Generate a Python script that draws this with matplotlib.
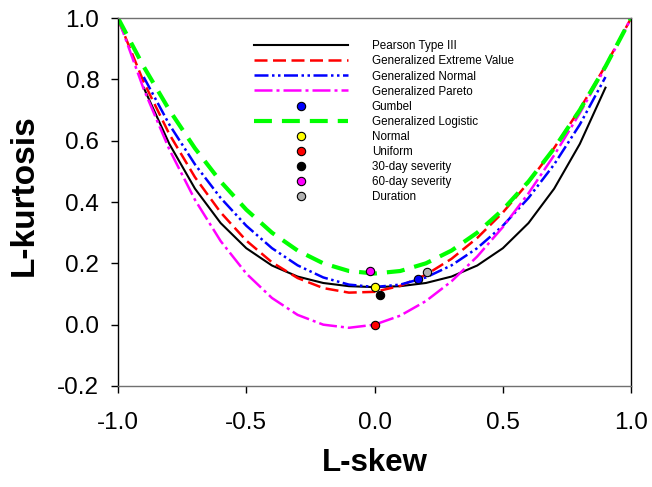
import matplotlib.pyplot as plt

# ----------------------------
# 1. Data
# ----------------------------
skew_full = [-1.0, -0.9, -0.8, -0.7, -0.6, -0.5, -0.4, -0.3, -0.2, -0.1, 0.0,
             0.1, 0.2, 0.3, 0.4, 0.5, 0.6, 0.7, 0.8, 0.9, 1.0]
skew_part = [-0.9, -0.8, -0.7, -0.6, -0.5, -0.4, -0.3, -0.2, -0.1, 0.0,
             0.1, 0.2, 0.3, 0.4, 0.5, 0.6, 0.7, 0.8, 0.9]

pe3_kurt = [0.7729, 0.5894, 0.4435, 0.3314, 0.2493, 0.1929, 0.1569, 0.1359, 0.1255, 0.1224,
            0.1255, 0.1359, 0.1569, 0.1929, 0.2493, 0.3314, 0.4435, 0.5894, 0.7729]
gev_kurt = [0.9966, 0.7916, 0.6214, 0.4808, 0.3661, 0.2742, 0.2034, 0.1521, 0.1193, 0.1045, 0.1070,
            0.1265, 0.1626, 0.2148, 0.2827, 0.3658, 0.4638, 0.5762, 0.7029, 0.8443, 1.0]
gno_kurt = [0.8077, 0.6526, 0.5226, 0.4133, 0.3226, 0.2495, 0.1935, 0.1540, 0.1306, 0.1228,
            0.1306, 0.1540, 0.1935, 0.2495, 0.3226, 0.4133, 0.5226, 0.6526, 0.8077]
gpa_kurt = [1.0, 0.7683, 0.5714, 0.4070, 0.2727, 0.1667, 0.0870, 0.0319, 0.0, -0.0102, 0.0,
            0.0294, 0.0769, 0.1415, 0.2222, 0.3182, 0.4286, 0.5526, 0.6897, 0.8390, 1.0]
glo_kurt = [1.0, 0.8417, 0.7, 0.575, 0.4667, 0.375, 0.3, 0.2417, 0.2, 0.175, 0.1667,
            0.175, 0.2, 0.2417, 0.3, 0.375, 0.4667, 0.575, 0.7, 0.8417, 1.0]

# single points: (L-skew, L-kurtosis)
gumbel = (0.1699, 0.1504)
normal = (0.0, 0.1226)
uniform = (0.0, 0.0)
sev30 = (0.021, 0.098)
sev60 = (-0.018, 0.174)
duration = (0.203, 0.171)

# ----------------------------
# 2. Plot
# ----------------------------
plt.rcParams['font.family'] = ['Liberation Sans', 'DejaVu Sans']

fig = plt.figure(figsize=(6.52, 4.87), dpi=100)
ax = fig.add_axes([0.181, 0.2074, 0.787, 0.7556])

ax.plot(skew_part, pe3_kurt, color='black', lw=1.5, label='Pearson Type III')
ax.plot(skew_full, gev_kurt, color='red', lw=1.8, dashes=(5.2, 2.2), label='Generalized Extreme Value')
ax.plot(skew_part, gno_kurt, color='blue', lw=1.8,
        dashes=(5.6, 1.4, 1.0, 1.4, 1.0, 1.4), label='Generalized Normal')
ax.plot(skew_full, gpa_kurt, color='magenta', lw=1.8,
        dashes=(7.2, 1.6, 1.2, 1.6), label='Generalized Pareto')

mk = dict(marker='o', ms=6, mec='black', mew=0.8, ls='none', zorder=5)
ax.plot(*gumbel, color='blue', label='Gumbel', **mk)
ax.plot(skew_full, glo_kurt, color='#00ff00', lw=3, dashes=(4.3, 2.4), label='Generalized Logistic')
ax.plot(*normal, color='yellow', label='Normal', **mk)
ax.plot(*uniform, color='red', label='Uniform', **mk)
ax.plot(*sev30, color='black', label='30-day severity', **mk)
ax.plot(*sev60, color='magenta', label='60-day severity', **mk)
ax.plot(*duration, color='#b0b0b0', label='Duration', **mk)

ax.set_xlim(-1.0, 1.0)
ax.set_ylim(-0.2, 1.0)
ax.set_xticks([-1.0, -0.5, 0.0, 0.5, 1.0])
ax.set_yticks([-0.2, 0.0, 0.2, 0.4, 0.6, 0.8, 1.0])
ax.xaxis.set_major_formatter(plt.FormatStrFormatter('%.1f'))
ax.yaxis.set_major_formatter(plt.FormatStrFormatter('%.1f'))
ax.tick_params(direction='out', length=5, width=1, labelsize=17.5)
ax.tick_params(axis='x', pad=14)
ax.tick_params(axis='y', pad=8.5)

ax.spines['top'].set_color('#707070')
ax.spines['bottom'].set_color('#707070')
for s in ax.spines.values():
    s.set_linewidth(1)

ax.set_xlabel('L-skew', fontsize=22.5, fontweight='bold', labelpad=10)
ax.set_ylabel('L-kurtosis', fontsize=24, fontweight='bold')
ax.yaxis.set_label_coords(-0.152, 0.52)

ax.legend(loc='upper left', bbox_to_anchor=(0.265, 0.939), frameon=False,
          fontsize=8.4, handlelength=8.05, handletextpad=2.05, labelspacing=0.26,
          borderpad=0, borderaxespad=0, numpoints=1)

fig.savefig('out.png', dpi=100)
